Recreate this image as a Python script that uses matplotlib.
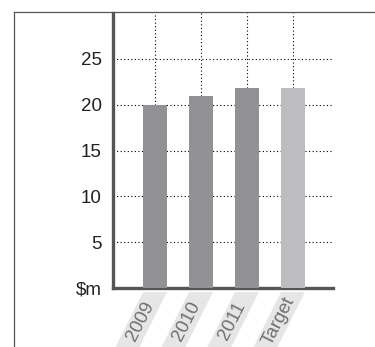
import matplotlib
matplotlib.use("Agg")
import matplotlib.pyplot as plt
from matplotlib.patches import Polygon
from matplotlib.lines import Line2D
import matplotlib.transforms as mtransforms

categories = ["2009", "2010", "2011", "Target"]
values = [20.0, 21.0, 21.8, 21.8]
bar_colors = ["#929295", "#929295", "#929295", "#bdbdbf"]
yticks = [0, 5, 10, 15, 20, 25]
ytick_labels = ["$m", "5", "10", "15", "20", "25"]

plt.rcParams['font.family'] = ['Liberation Sans Narrow', 'Liberation Sans', 'DejaVu Sans']

W, H = 375, 347
fig = plt.figure(figsize=(W / 100, H / 100), dpi=100)
fig.patch.set_facecolor("white")

# outer frame (top + left rules)
frame_y = 1 - 12 / H
frame_x = 14 / W
fig.add_artist(Line2D([frame_x, 1.0], [frame_y, frame_y], color="#555555", lw=0.9))
fig.add_artist(Line2D([frame_x, frame_x], [0, frame_y], color="#555555", lw=0.9))

ax = fig.add_axes([113 / W, 1 - 288 / H, (333 - 113) / W, (288 - 13) / H])
x = list(range(len(categories)))
ax.bar(x, values, width=0.52, color=bar_colors, zorder=3)

ax.set_xlim(-0.913, 3.87)
ax.set_ylim(0, 30)

# horizontal dotted grid
for t in yticks[1:]:
    ax.axhline(t, color="black", lw=0.8, ls=(0, (1, 2.2)), zorder=1)
# vertical dotted lines above the bars
for xi, v in zip(x, values):
    ax.plot([xi, xi], [v, 30], color="black", lw=0.8, ls=(0, (1, 2.2)), zorder=1)

for s in ["top", "right"]:
    ax.spines[s].set_visible(False)
for s in ["left", "bottom"]:
    ax.spines[s].set_color("#555555")
    ax.spines[s].set_linewidth(2.4)

ax.set_yticks(yticks)
ax.set_yticklabels(ytick_labels, fontsize=13.5, color="#222222")
ax.tick_params(axis="y", length=0, pad=8)
ax.set_xticks([])

# slanted label bands below the axis
trans = mtransforms.blended_transform_factory(ax.transData, ax.transAxes)
px_per_unit = 46.0
y0, y1 = -4 / 275, -62 / 275
slant = 29 / px_per_unit
hw = 0.26
for xi, lab in zip(x, categories):
    poly = Polygon([[xi - hw, y0], [xi + hw, y0], [xi + hw - slant, y1], [xi - hw - slant, y1]],
                   closed=True, transform=trans, facecolor="#e6e6e6", edgecolor="none",
                   clip_on=False, zorder=0)
    ax.add_patch(poly)
    ax.text(xi - slant * 0.5, (y0 + y1) / 2, lab, transform=trans, rotation=63,
            ha="center", va="center", fontsize=13.5, color="#707070", clip_on=False)

fig.savefig("out.png", dpi=100, facecolor="white")
